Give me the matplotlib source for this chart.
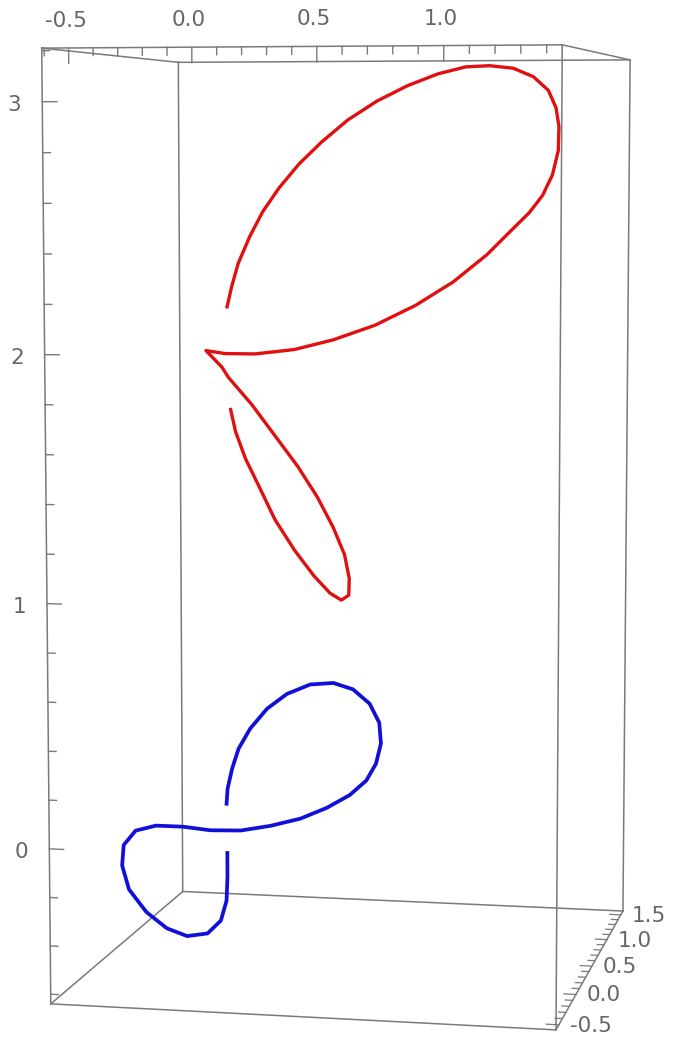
import numpy as np
import matplotlib
matplotlib.use('Agg')
import matplotlib.pyplot as plt
from mpl_toolkits.mplot3d import proj3d

# plot range of the box
x_lim = (-0.61, 1.46)
y_lim = (-0.58, 1.58)
z_lim = (-0.64, 3.21)

x_major = [-0.5, 0.0, 0.5, 1.0]
x_labels = ['-0.5', '0.0', '0.5', '1.0']
y_major = [-0.5, 0.0, 0.5, 1.0, 1.5]
y_labels = ['-0.5', '0.0', '0.5', '1.0', '1.5']
z_major = [0, 1, 2, 3]
z_labels = ['0', '1', '2', '3']

curve_depth = -0.55

red_x = [0.142, 0.163, 0.203, 0.256, 0.322, 0.401, 0.480, 0.545, 0.590, 0.620,
         0.622, 0.603, 0.558, 0.493, 0.414, 0.322, 0.230, 0.135, 0.109, 0.044,
         0.122, 0.243, 0.401, 0.558, 0.725, 0.886, 1.034, 1.166, 1.272, 1.332,
         1.383, 1.421, 1.443, 1.445, 1.433, 1.403, 1.345, 1.266, 1.174, 1.081,
         0.973, 0.853, 0.732, 0.616, 0.512, 0.421, 0.342, 0.276, 0.223, 0.176,
         0.149, 0.129]
red_z = [1.796, 1.703, 1.596, 1.490, 1.356, 1.236, 1.135, 1.068, 1.042, 1.062,
         1.129, 1.223, 1.329, 1.450, 1.570, 1.690, 1.810, 1.917, 1.957, 2.022,
         2.011, 2.011, 2.030, 2.070, 2.129, 2.208, 2.300, 2.406, 2.511, 2.570,
         2.636, 2.715, 2.808, 2.900, 2.972, 3.038, 3.090, 3.123, 3.133, 3.129,
         3.103, 3.058, 2.999, 2.926, 2.841, 2.755, 2.663, 2.570, 2.472, 2.366,
         2.274, 2.189]

blue_x = [0.120, 0.125, 0.144, 0.171, 0.219, 0.288, 0.369, 0.464, 0.558, 0.637,
          0.704, 0.743, 0.750, 0.730, 0.691, 0.624, 0.531, 0.423, 0.301, 0.178,
          0.053, -0.059, -0.172, -0.257, -0.307, -0.314, -0.286, -0.214, -0.129, -0.045,
          0.040, 0.095, 0.119, 0.123, 0.123]
blue_z = [0.200, 0.269, 0.351, 0.433, 0.516, 0.598, 0.660, 0.701, 0.710, 0.687,
          0.632, 0.557, 0.474, 0.392, 0.323, 0.262, 0.207, 0.159, 0.125, 0.101,
          0.097, 0.107, 0.107, 0.083, 0.022, -0.062, -0.159, -0.249, -0.312, -0.340,
          -0.325, -0.270, -0.187, -0.090, 0.015]

edge_col = '#7a7a7a'
text_col = '#666666'
font_size = 15.5

fig = plt.figure(figsize=(6.73, 10.5), dpi=100)
ax = fig.add_axes([-0.276, 0.0, 1.56, 1.0], projection='3d')
ax.set_axis_off()
ax.set_xlim(x_lim)
ax.set_ylim(y_lim)
ax.set_zlim(z_lim)
ax.set_box_aspect((x_lim[1] - x_lim[0], y_lim[1] - y_lim[0], z_lim[1] - z_lim[0]),
                  zoom=1.06)
ax.set_proj_type('persp', focal_length=0.6)
ax.view_init(elev=6.0, azim=-78.5)

x0, x1 = x_lim
y0, y1 = y_lim
z0, z1 = z_lim

# the 12 edges of the box
for yy in (y0, y1):
    for zz in (z0, z1):
        ax.plot([x0, x1], [yy, yy], [zz, zz], color=edge_col, lw=1.1, clip_on=False)
for xx in (x0, x1):
    for zz in (z0, z1):
        ax.plot([xx, xx], [y0, y1], [zz, zz], color=edge_col, lw=1.1, clip_on=False)
for xx in (x0, x1):
    for yy in (y0, y1):
        ax.plot([xx, xx], [yy, yy], [z0, z1], color=edge_col, lw=1.1, clip_on=False)

# x ticks along the top front edge
for t in np.round(np.arange(-0.6, 1.45, 0.1), 2):
    if t < x0 or t > x1:
        continue
    ln = 0.06 if np.any(np.isclose(t, x_major)) else 0.03
    ax.plot([t, t], [y0, y0], [z1, z1 - ln], color=edge_col, lw=1.0, clip_on=False)

# z ticks along the left front edge
for t in np.round(np.arange(-0.6, 3.21, 0.2), 2):
    if t < z0 or t > z1:
        continue
    ln = 0.06 if np.any(np.isclose(t, z_major)) else 0.032
    ax.plot([x0, x0 + ln], [y0, y0], [t, t], color=edge_col, lw=1.0, clip_on=False)

# y ticks along the bottom right edge
for t in np.round(np.arange(-0.5, 1.55, 0.1), 2):
    ln = 0.05 if np.any(np.isclose(t, y_major)) else 0.03
    ax.plot([x1, x1 - ln], [t, t], [z0, z0], color=edge_col, lw=0.9, clip_on=False)

ax.plot(red_x, np.full(len(red_x), curve_depth), red_z, color='#e01010', lw=2.4,
        solid_capstyle='butt', solid_joinstyle='round', clip_on=False)
ax.plot(blue_x, np.full(len(blue_x), curve_depth), blue_z, color='#1010d8', lw=2.7,
        solid_capstyle='butt', solid_joinstyle='round', clip_on=False)

# tick labels: project the 3D anchor, then offset in pixels
fig.canvas.draw()
M = ax.get_proj()


def put_label(x, y, z, s, dx, dy, ha):
    xs, ys, _ = proj3d.proj_transform(x, y, z, M)
    ax.annotate(s, xy=(xs, ys), xycoords='data', xytext=(dx, dy),
                textcoords='offset pixels', ha=ha, va='center',
                color=text_col, fontsize=font_size, annotation_clip=False)


for t, s in zip(x_major, x_labels):
    put_label(t, y0, z1, s, -3, 27, 'center')
for t, s in zip(z_major, z_labels):
    put_label(x0, y0, t, s, -21, -3, 'right')
for t, s in zip(y_major, y_labels):
    put_label(x1, t, z0, s, 11, -1, 'left')

fig.savefig('out.png', dpi=100)
